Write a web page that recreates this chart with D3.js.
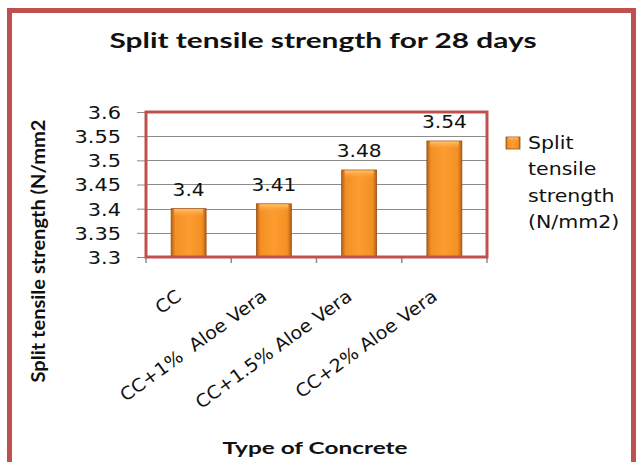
<!DOCTYPE html>
<html>
<head>
<meta charset="utf-8">
<script src="https://cdn.jsdelivr.net/npm/d3@7"></script>
<style>
  html, body { margin: 0; padding: 0; background: #fff; }
  svg { display: block; }
</style>
</head>
<body>
<svg id="chart" width="637" height="462"></svg>
<script>
const categories = ["CC", "CC+1%  Aloe Vera", "CC+1.5% Aloe Vera", "CC+2% Aloe Vera"];
const values = [3.40, 3.41, 3.48, 3.54];
const valueLabels = ["3.4", "3.41", "3.48", "3.54"];
const yTicks = [3.3, 3.35, 3.4, 3.45, 3.5, 3.55, 3.6];
const yTickLabels = ["3.3", "3.35", "3.4", "3.45", "3.5", "3.55", "3.6"];
const legendLines = ["Split", "tensile", "strength", "(N/mm2)"];
const titleText = "Split tensile strength for 28 days";
const yTitle = "Split tensile strength (N/mm2";
const xTitle = "Type of Concrete";

const svg = d3.select("#chart");
const RED = "#C0504D";
const BODY = "DejaVu Sans, sans-serif";
const HEAD = "Lato, Calibri, sans-serif";

function stretch(sel, f) {
  sel.each(function() {
    const n = this.getComputedTextLength();
    d3.select(this).attr("textLength", n * f).attr("lengthAdjust", "spacingAndGlyphs");
  });
}
function fitWidth(sel, w) {
  sel.attr("textLength", w).attr("lengthAdjust", "spacingAndGlyphs");
}

// gradients
const defs = svg.append("defs");
const g1 = defs.append("linearGradient").attr("id", "barH").attr("x1", 0).attr("x2", 1).attr("y1", 0).attr("y2", 0);
g1.append("stop").attr("offset", "0%").attr("stop-color", "#B9601A");
g1.append("stop").attr("offset", "12%").attr("stop-color", "#F39024");
g1.append("stop").attr("offset", "50%").attr("stop-color", "#FD9C30");
g1.append("stop").attr("offset", "88%").attr("stop-color", "#F39024");
g1.append("stop").attr("offset", "100%").attr("stop-color", "#B9601A");
const g2 = defs.append("linearGradient").attr("id", "barTop").attr("x1", 0).attr("x2", 0).attr("y1", 0).attr("y2", 1);
g2.append("stop").attr("offset", "0%").attr("stop-color", "#FFC46A");
g2.append("stop").attr("offset", "100%").attr("stop-color", "#FB9A34").attr("stop-opacity", 0);

// outer border
svg.append("rect").attr("x", 9.5).attr("y", 10.5).attr("width", 624).attr("height", 480)
  .attr("fill", "none").attr("stroke", RED).attr("stroke-width", 5);

// title
svg.append("text").attr("x", 323).attr("y", 48).attr("text-anchor", "middle")
  .attr("font-family", HEAD).attr("font-weight", "bold").attr("font-size", 21)
  .attr("fill", "#111").text(titleText).call(fitWidth, 427);

const plot = { left: 146, right: 487, top: 112, bottom: 257 };

const x = d3.scaleBand().domain(categories).range([plot.left, plot.right])
  .paddingInner(0.59).paddingOuter(0.295);
const y = d3.scaleLinear().domain([3.3, 3.6]).range([plot.bottom, plot.top]);

// gridlines
svg.append("g").selectAll("line").data(yTicks.slice(1)).join("line")
  .attr("x1", plot.left).attr("x2", plot.right)
  .attr("y1", d => Math.round(y(d)) + 0.5).attr("y2", d => Math.round(y(d)) + 0.5)
  .attr("stroke", "#8c8c8c").attr("stroke-width", 1);

// y axis
const yAxis = svg.append("g").attr("transform", `translate(${plot.left},0)`)
  .call(d3.axisLeft(y).tickValues(yTicks).tickSize(9).tickPadding(16)
    .tickFormat((d, i) => yTickLabels[i]));
yAxis.select(".domain").attr("stroke", "#8c8c8c");
yAxis.selectAll(".tick line").attr("stroke", "#8c8c8c");
yAxis.selectAll(".tick text").attr("font-family", BODY).attr("font-size", 18)
  .attr("fill", "#111").attr("dy", "0.36em").call(stretch, 1.16);

// x axis (ticks between categories)
const step = x.step();
const boundaries = d3.range(categories.length + 1).map(i => plot.left + i * step);
svg.append("line").attr("x1", plot.left).attr("x2", plot.right)
  .attr("y1", plot.bottom + 0.5).attr("y2", plot.bottom + 0.5).attr("stroke", "#8c8c8c");
svg.append("g").selectAll("line").data(boundaries).join("line")
  .attr("x1", d => d).attr("x2", d => d)
  .attr("y1", plot.bottom).attr("y2", plot.bottom + 6)
  .attr("stroke", "#8c8c8c").attr("stroke-width", 1.5);

// bars
const bars = svg.append("g").selectAll("g").data(values).join("g");
bars.append("rect")
  .attr("x", (d, i) => x(categories[i])).attr("width", x.bandwidth())
  .attr("y", d => y(d)).attr("height", d => y(3.3) - y(d))
  .attr("fill", "url(#barH)").attr("stroke", "#9A4E14").attr("stroke-width", 0.8);
bars.append("rect")
  .attr("x", (d, i) => x(categories[i]) + 3).attr("width", x.bandwidth() - 6)
  .attr("y", d => y(d) + 0.5).attr("height", 8)
  .attr("fill", "url(#barTop)");

// plot border (red)
svg.append("rect").attr("x", plot.left).attr("y", plot.top)
  .attr("width", plot.right - plot.left).attr("height", plot.bottom - plot.top)
  .attr("fill", "none").attr("stroke", RED).attr("stroke-width", 3);

// value labels
svg.append("g").selectAll("text").data(values).join("text")
  .attr("x", (d, i) => x(categories[i]) + x.bandwidth() / 2)
  .attr("y", d => y(d) - 13)
  .attr("text-anchor", "middle").attr("font-family", BODY).attr("font-size", 18)
  .attr("fill", "#111").text((d, i) => valueLabels[i]).call(stretch, 1.12);

// category labels
svg.append("g").selectAll("text").data(categories).join("text")
  .attr("transform", d => `translate(${x(d) + x.bandwidth() / 2 - 6},299) rotate(-36)`)
  .attr("text-anchor", "end").attr("font-family", BODY).attr("font-size", 18)
  .attr("fill", "#111").attr("xml:space", "preserve").style("white-space", "pre")
  .text(d => d).call(stretch, 1.06);

// axis titles
svg.append("text").attr("transform", "translate(45,251) rotate(-90)")
  .attr("text-anchor", "middle").attr("font-family", HEAD).attr("font-weight", "bold")
  .attr("font-size", 18).attr("fill", "#111").text(yTitle).call(fitWidth, 263);
svg.append("text").attr("x", 315).attr("y", 454).attr("text-anchor", "middle")
  .attr("font-family", HEAD).attr("font-weight", "bold").attr("font-size", 17)
  .attr("fill", "#111").text(xTitle).call(fitWidth, 185);

// legend
const lg = svg.append("g");
lg.append("rect").attr("x", 506).attr("y", 137).attr("width", 14).attr("height", 12)
  .attr("fill", "url(#barH)").attr("stroke", "#9A4E14").attr("stroke-width", 0.8);
lg.append("rect").attr("x", 508).attr("y", 137.5).attr("width", 10).attr("height", 4)
  .attr("fill", "url(#barTop)");
lg.selectAll("text").data(legendLines).join("text")
  .attr("x", 528).attr("y", (d, i) => 149 + i * 26.3)
  .attr("font-family", BODY).attr("font-size", 18).attr("fill", "#111")
  .text(d => d).call(stretch, 1.14);
</script>
</body>
</html>
